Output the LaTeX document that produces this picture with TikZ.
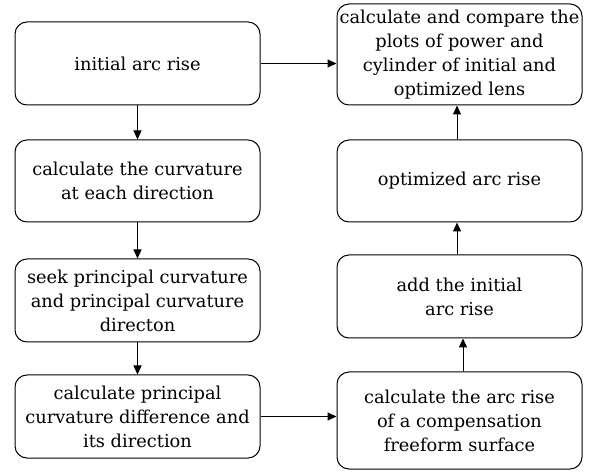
\documentclass[tikz,border=0pt]{standalone}
\usepackage{fontspec}
\setmainfont{DejaVu Serif}
\usetikzlibrary{arrows.meta}
\begin{document}
\begin{tikzpicture}[x=1pt,y=-1pt,
  box/.style={draw,line width=1pt,rounded corners=12pt,align=center,inner sep=0pt,
    font=\fontsize{17.8}{24}\selectfont},
  arr/.style={-{Triangle[length=9pt,width=8pt]},line width=1pt}]
\useasboundingbox (0,0) rectangle (595,473);
\node[box,minimum width=245pt,minimum height=83pt] (a) at (137.5,63.5) {initial arc rise};
\node[box,minimum width=245pt,minimum height=82pt] (b) at (137.5,181) {calculate the curvature\\at each direction};
\node[box,minimum width=245pt,minimum height=83pt] (c) at (137.5,300.5) {seek principal curvature\\and principal curvature\\directon};
\node[box,minimum width=245pt,minimum height=83pt] (d) at (137.5,416.5) {calculate principal\\curvature difference and\\its direction};
\node[box,minimum width=245pt,minimum height=101pt] (r1) at (459.5,54.5) {calculate and compare the\\plots of power and\\cylinder of initial and\\optimized lens};
\node[box,minimum width=245pt,minimum height=82pt] (r2) at (459.5,181) {optimized arc rise};
\node[box,minimum width=245pt,minimum height=83pt] (r3) at (459.5,296.5) {add the initial\\arc rise};
\node[box,minimum width=245pt,minimum height=97pt] (r4) at (459.5,420.5) {calculate the arc rise\\of a compensation\\freeform surface};
\draw[arr] (a) -- (b);
\draw[arr] (b) -- (c);
\draw[arr] (c) -- (d);
\draw[arr] (a.east) -- (r1.west |- a.east);
\draw[arr] (d.east) -- (r4.west |- d.east);
\draw[arr] (r4.north -| 463,0) -- (r3.south -| 463,0);
\draw[arr] (r3.north -| 457,0) -- (r2.south -| 457,0);
\draw[arr] (r2.north -| 457,0) -- (r1.south -| 457,0);
\end{tikzpicture}
\end{document}
